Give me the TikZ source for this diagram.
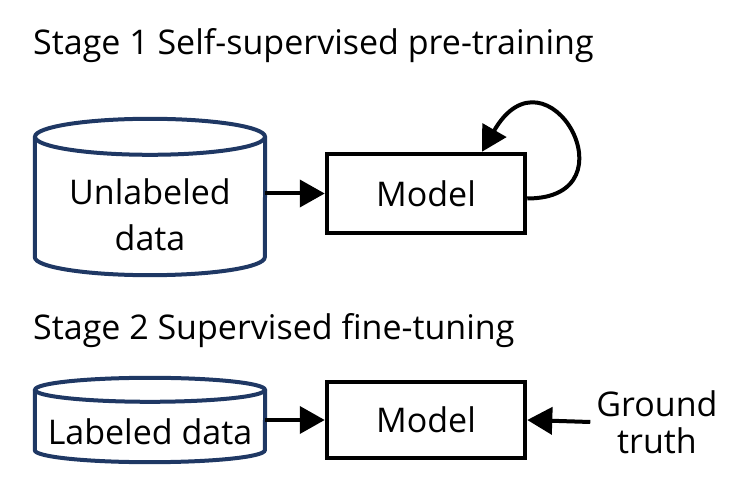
\documentclass[tikz,border=0pt]{standalone}
\usepackage{fontspec}
\setmainfont{Open Sans}
\usetikzlibrary{arrows.meta}
\definecolor{navy}{RGB}{31,56,100}
\begin{document}
\begin{tikzpicture}[x=1pt, y=1pt,
        title/.style={anchor=base west, inner sep=0pt, font=\fontsize{34}{40}\selectfont},
        face/.style={minimum width=230pt, inner sep=0pt, align=center, font=\fontsize{34}{46}\selectfont},
        modelbox/.style={draw, line width=4.5pt, minimum width=198pt, inner sep=0pt, font=\fontsize{34}{46}\selectfont},
        cylline/.style={draw=navy, line width=4pt},
        arr/.style={line width=4pt, -{Triangle[length=25pt, width=27pt]}}]
    \useasboundingbox (0,0) rectangle (732,504);
    \node[title] (st1) at (33,449) {Stage 1 Self-supervised pre-training};
    \node[title] (st2) at (33,164) {Stage 2 Supervised fine-tuning};
    % stage 1
    \node[face, minimum height=120pt] (unl) at (150,289) {Unlabeled\\data};
    \draw[cylline] ([yshift=18pt]unl.north west) -- ([yshift=18pt]unl.south west) arc[start angle=180, end angle=360, x radius=115pt, y radius=18pt] -- ([yshift=18pt]unl.north east);
    \draw[cylline] ([yshift=18pt]unl.north) ellipse[x radius=115pt, y radius=18pt];
    \node[modelbox, minimum height=79pt] (m1) at (426,310.5) {Model};
    \draw[arr] (unl.east |- m1) -- (m1.west);
    \draw[arr] ([yshift=-5pt]m1.east) .. controls +(110,0) and +(65,113) .. ([xshift=56pt]m1.north);
    % stage 2
    \node[face, minimum height=60pt] (lab) at (150,72) {Labeled data};
    \draw[cylline] ([yshift=12pt]lab.north west) -- ([yshift=12pt]lab.south west) arc[start angle=180, end angle=360, x radius=115pt, y radius=12pt] -- ([yshift=12pt]lab.north east);
    \draw[cylline] ([yshift=12pt]lab.north) ellipse[x radius=115pt, y radius=12pt];
    \node[modelbox, minimum height=76pt] (m2) at (426,84) {Model};
    \node[align=center, inner sep=6pt, font=\fontsize{34}{37}\selectfont] (gt) at (657,82) {Ground\\truth};
    \draw[arr] (lab.east |- m2) -- (m2.west);
    \draw[arr] (gt.west) -- (m2.east);
\end{tikzpicture}
\end{document}
